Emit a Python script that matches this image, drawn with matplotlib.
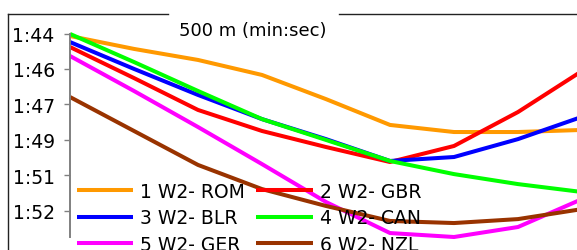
import numpy as np
import matplotlib.pyplot as plt
from matplotlib.lines import Line2D

# Datos: tiempo por 500 m (segundos) en cada punto de control
puntos = [0, 1, 2, 3, 4, 5, 6, 7, 8]

rom = [104.12, 104.74, 105.27, 105.99, 107.15, 108.39, 108.73, 108.73, 108.63]
gbr = [104.65, 106.14, 107.67, 108.68, 109.45, 110.17, 109.40, 107.77, 105.80]
blr = [104.41, 105.70, 106.95, 108.11, 109.07, 110.12, 109.93, 109.07, 108.00]
can = [104.02, 105.37, 106.76, 108.11, 109.11, 110.12, 110.75, 111.23, 111.61]
ger = [105.08, 106.76, 108.49, 110.27, 112.09, 113.58, 113.77, 113.29, 111.95]
nzl = [107.05, 108.68, 110.31, 111.47, 112.28, 113.00, 113.10, 112.91, 112.43]

series = [
    ('1 W2- ROM', rom, '#FF9900'),
    ('2 W2- GBR', gbr, '#FF0000'),
    ('3 W2- BLR', blr, '#0000FF'),
    ('4 W2- CAN', can, '#00FF00'),
    ('5 W2- GER', ger, '#FF00FF'),
    ('6 W2- NZL', nzl, '#993300'),
]

y_ticks = [104.0, 105.7, 107.4, 109.1, 110.8, 112.5]
y_labels = ['1:44', '1:46', '1:47', '1:49', '1:51', '1:52']

# ===== Gráfico =====
W, H = 577, 251
fig = plt.figure(figsize=(W/100, H/100), dpi=100)
ax = fig.add_axes([70/W, 13/H, (W-70)/W, (238-34.5)/H])

handles = {}
for label, vals, color in series:
    h, = ax.plot(puntos, vals, color=color, lw=2.9, clip_on=False,
                 solid_joinstyle='round', solid_capstyle='butt', label=label)
    handles[label] = h

ax.set_xlim(0, (W-70)/64)
ax.set_ylim(113.77, 104.0)

ax.set_yticks(y_ticks)
ax.set_yticklabels(y_labels, fontsize=13.5)
ax.tick_params(axis='y', direction='out', length=4.5, width=1, color='#808080', pad=6.5)
ax.set_xticks([])

for s in ['top', 'right', 'bottom']:
    ax.spines[s].set_visible(False)
ax.spines['left'].set_color('#808080')
ax.spines['left'].set_linewidth(1.4)

# Leyenda (orden de columnas como en el original)
orden = ['1 W2- ROM', '3 W2- BLR', '5 W2- GER', '2 W2- GBR', '4 W2- CAN', '6 W2- NZL']
ax.legend([handles[k] for k in orden], orden, ncol=2, frameon=False,
          fontsize=13.5, handlelength=3.0, handletextpad=0.37,
          columnspacing=0.6, labelspacing=0.4, borderpad=0, borderaxespad=0,
          loc='upper left', bbox_to_anchor=(77/W, 1 - 183/H),
          bbox_transform=fig.transFigure)

# Marco exterior y título
fy = 1 - 14.7/H
fig.add_artist(Line2D([8/W, 8/W], [0, fy], color='#222222', lw=1, transform=fig.transFigure))
fig.add_artist(Line2D([8/W, 168/W], [fy, fy], color='#222222', lw=1, transform=fig.transFigure))
fig.add_artist(Line2D([339/W, 1], [fy, fy], color='#222222', lw=1, transform=fig.transFigure))
fig.text(252.5/W, 1 - 36/H, '500 m (min:sec)', ha='center', va='baseline', fontsize=13)

fig.savefig('out.png', dpi=100)
